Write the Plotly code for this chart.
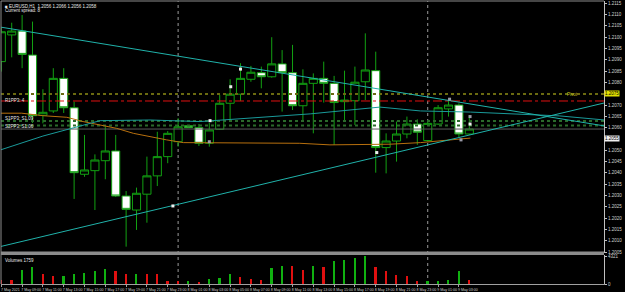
import plotly.graph_objects as go

# ---------------- data ----------------
bars = list(range(46))
open_ = [1.20892, 1.21010, 1.21027, 1.20921, 1.20655, 1.20674, 1.20818, 1.20688, 1.20394, 1.20410,
         1.20454, 1.20497, 1.20298, 1.20236, 1.20306, 1.20387, 1.20472, 1.20538, 1.20609, 1.20600,
         1.20531, 1.20593, 1.20708, 1.20748, 1.20814, 1.20843, 1.20825, 1.20882, 1.20843, 1.20697,
         1.20796, 1.20818, 1.20796, 1.20715, 1.20719, 1.20803, 1.20852, 1.20512, 1.20541, 1.20572,
         1.20616, 1.20543, 1.20616, 1.20683, 1.20700, 1.20572]
high = [1.21041, 1.21064, 1.21098, 1.21069, 1.20770, 1.20863, 1.20863, 1.20715, 1.20568, 1.20482,
        1.20604, 1.20568, 1.20320, 1.20335, 1.20472, 1.20582, 1.20585, 1.20642, 1.20612, 1.20616,
        1.20621, 1.20745, 1.20814, 1.20885, 1.20873, 1.20870, 1.21000, 1.20943, 1.20966, 1.20858,
        1.20840, 1.20892, 1.20829, 1.20852, 1.20870, 1.21017, 1.20936, 1.20575, 1.20627, 1.20649,
        1.20637, 1.20627, 1.20700, 1.20730, 1.20708, 1.20656]
low = [1.20848, 1.20911, 1.20863, 1.20621, 1.20619, 1.20665, 1.20665, 1.20285, 1.20383, 1.20236,
       1.20372, 1.20294, 1.20074, 1.20148, 1.20180, 1.20342, 1.20443, 1.20516, 1.20599, 1.20519,
       1.20516, 1.20590, 1.20631, 1.20718, 1.20803, 1.20774, 1.20821, 1.20671, 1.20678, 1.20627,
       1.20575, 1.20711, 1.20524, 1.20634, 1.20612, 1.20722, 1.20401, 1.20398, 1.20450, 1.20553,
       1.20524, 1.20538, 1.20612, 1.20649, 1.20558, 1.20568]
close = [1.21024, 1.21027, 1.20924, 1.20653, 1.20668, 1.20818, 1.20688, 1.20401, 1.20413, 1.20457,
         1.20497, 1.20298, 1.20239, 1.20310, 1.20387, 1.20472, 1.20575, 1.20604, 1.20600, 1.20531,
         1.20590, 1.20708, 1.20748, 1.20818, 1.20845, 1.20825, 1.20882, 1.20843, 1.20697, 1.20796,
         1.20818, 1.20796, 1.20711, 1.20722, 1.20801, 1.20855, 1.20512, 1.20541, 1.20572, 1.20616,
         1.20580, 1.20619, 1.20688, 1.20700, 1.20572, 1.20594]
volume = [600, 671, 2231, 2652, 1607, 1295, 1300, 1607, 1716, 2075,
          2340, 2070, 1607, 1620, 1600, 1560, 515, 421, 468, 312,
          827, 983, 1607, 1092, 780, 671, 2496, 2855, 2761, 2231,
          2855, 2652, 3541, 3791, 4056, 4321, 2652, 1981, 1357, 1295,
          421, 430, 515, 671, 1981, 671]
vol_up = [0, 0, 1, 1, 0, 0, 1, 1, 1, 1,
          1, 0, 0, 1, 0, 0, 0, 0, 1, 0,
          1, 1, 1, 0, 0, 0, 1, 1, 0, 0,
          1, 0, 1, 1, 1, 1, 0, 0, 0, 0,
          0, 1, 1, 1, 1, 0]

label_bars = list(range(0, 46, 2))
time_labels = ["7 May 2021", "7 May 09:00", "7 May 11:00", "7 May 13:00", "7 May 15:00",
               "7 May 17:00", "7 May 19:00", "7 May 21:00", "7 May 23:00", "8 May 01:00",
               "8 May 03:00", "8 May 05:00", "8 May 07:00", "8 May 09:00", "8 May 11:00",
               "8 May 13:00", "8 May 15:00", "8 May 17:00", "8 May 19:00", "8 May 21:00",
               "8 May 23:00", "9 May 01:00", "9 May 03:00"]
price_ticks = [1.2005, 1.2010, 1.2015, 1.2020, 1.2025, 1.2030, 1.2035, 1.2040, 1.2045, 1.2050,
               1.2060, 1.2065, 1.2070, 1.2080, 1.2085, 1.2090, 1.2095, 1.2100, 1.2105, 1.2110, 1.2115]
price_tick_labels = ["%.4f" % p for p in price_ticks]

separators = [17, 41]

tl1_x = [-0.125, 57.95]
tl1_y = [1.21045, 1.20608]
tl2_x = [-0.125, 57.95]
tl2_y = [1.20074, 1.20709]

ma_c_x = [-0.125, 4.0, 9.5, 14.3, 19.1, 24.9, 29.7, 36.4, 40.3, 45.1, 53.7, 58.0]
ma_c_y = [1.20501, 1.20563, 1.20631, 1.20634, 1.20627, 1.20646, 1.20661, 1.20691, 1.20674, 1.20669, 1.20652, 1.20634]

ma_o_x = [-0.125, 1.96, 4.0, 6.3, 7.86, 9.5, 11.1, 12.7, 14.3, 15.9, 17.5, 19.1, 28.7, 31.6, 37.4, 40.3, 42.2, 45.1]
ma_o_y = [1.20664, 1.20664, 1.20653, 1.20646, 1.20627, 1.20612, 1.20597, 1.20575, 1.20560, 1.20546,
          1.20534, 1.20534, 1.20531, 1.20524, 1.20527, 1.20534, 1.20541, 1.20554]

pivot_level = 1.20749
r_level = 1.20718
s_levels = [1.20630, 1.20610]
bid_level = 1.20594
marked_level = 1.2055

mk_x = [23.0, 22.06, 20.07, 20.0, 36.1, 16.5, 43.1, 44.2, 45.07, 45.07]
mk_y = [1.20859, 1.20781, 1.20631, 1.20538, 1.20490, 1.20254, 1.20726, 1.20546, 1.20649, 1.20616]
mk_white = [1, 1, 1, 0, 1, 1, 0, 0, 0, 1]

header_text = "EURUSD,H1  1.2056 1.2066 1.2056 1.2058"
spread_text = "Current spread: 8"
vol_text = "Volumes 1759"
vol_ticks = [0, 4321]

# ---------------- styles ----------------
GREEN = "#12a012"
XR = [-0.03, 57.95]
FULL = [-0.03, 57.95]
FONT = "Liberation Sans Narrow, Liberation Sans"

fig = go.Figure()

fig.add_trace(go.Candlestick(
    x=bars, open=open_, high=high, low=low, close=close,
    increasing=dict(line=dict(color=GREEN, width=1), fillcolor="black"),
    decreasing=dict(line=dict(color=GREEN, width=1), fillcolor="white"),
    whiskerwidth=0, showlegend=False, hoverinfo="skip", xaxis="x", yaxis="y"))

def hline(level, color, dash, width):
    fig.add_trace(go.Scatter(x=FULL, y=[level, level], mode="lines",
                             line=dict(color=color, dash=dash, width=width),
                             showlegend=False, hoverinfo="skip", xaxis="x", yaxis="y"))

hline(pivot_level, "#6a6a10", "dot", 2)
hline(r_level, "#e01010", "dashdot", 1)
for lv in s_levels:
    hline(lv, "#2a6a2a", "dot", 2)
hline(bid_level, "#5a5a5a", "solid", 1)

fig.add_trace(go.Scatter(x=ma_o_x, y=ma_o_y, mode="lines", line=dict(color="#b8700e", width=1),
                         showlegend=False, hoverinfo="skip", xaxis="x", yaxis="y"))
fig.add_trace(go.Scatter(x=ma_c_x, y=ma_c_y, mode="lines", line=dict(color="#1a9a9a", width=1),
                         showlegend=False, hoverinfo="skip", xaxis="x", yaxis="y"))
for tx, ty in [(tl1_x, tl1_y), (tl2_x, tl2_y)]:
    fig.add_trace(go.Scatter(x=tx, y=ty, mode="lines", line=dict(color="#20b2aa", width=1),
                             showlegend=False, hoverinfo="skip", xaxis="x", yaxis="y"))

fig.add_trace(go.Scatter(x=mk_x, y=mk_y, mode="markers",
                         marker=dict(symbol="square", size=3,
                                     color=["#f0f0f0" if w else "#9a9aa8" for w in mk_white]),
                         showlegend=False, hoverinfo="skip", xaxis="x", yaxis="y"))

fig.add_trace(go.Bar(x=bars, y=volume, width=0.16,
                     marker=dict(color=["#10b010" if u else "#e01010" for u in vol_up], line=dict(width=0)),
                     showlegend=False, hoverinfo="skip", xaxis="x2", yaxis="y2"))

H = 292
def py(p):  # pixel y -> paper
    return (284 - p) / 283.0

shapes = []
for s in separators:
    shapes.append(dict(type="line", xref="x", yref="paper", x0=s, x1=s, y0=0, y1=1,
                       line=dict(color="#9a9a9a", width=1, dash="dot"), layer="below"))
shapes.append(dict(type="rect", xref="paper", yref="paper", x0=0, x1=1, y0=py(255), y1=py(251.5),
                   fillcolor="#8c8c8c", line=dict(width=0), layer="above"))
shapes.append(dict(type="line", xref="paper", yref="paper", x0=0, x1=0, y0=0, y1=1,
                   line=dict(color="#8c8c8c", width=1)))
shapes.append(dict(type="line", xref="paper", yref="paper", x0=0, x1=1, y0=1, y1=1,
                   line=dict(color="#8c8c8c", width=1)))

def txt(t, x, y, xref, yref, color="#e8e8e8", xanchor="left", yanchor="middle", **kw):
    return dict(text=t, x=x, y=y, xref=xref, yref=yref, xanchor=xanchor, yanchor=yanchor,
                showarrow=False, font=dict(size=4.5, color=color, family=FONT), **kw)

ann = [
    txt("■ " + header_text, 0.004, py(1.5), "paper", "paper", yanchor="top"),
    txt(spread_text, 0.004, py(6), "paper", "paper", yanchor="top"),
    txt(vol_text, 0.004, py(255.5), "paper", "paper", yanchor="top"),
    txt("R1PP3: 4", 0.004, r_level, "paper", "y"),
    txt("S1PP3: S1.09", 0.004, s_levels[0] + 0.0001, "paper", "y"),
    txt("S2PP3: S1.06", 0.004, s_levels[1] - 0.00003, "paper", "y"),
    txt("Pivot", 54.9, pivot_level - 0.00004, "x", "y", color="#c8c820", xanchor="center"),
]
ann.append(dict(text="%.4f" % pivot_level, x=1.0, y=pivot_level, xref="paper", yref="y",
                xanchor="left", yanchor="middle", showarrow=False, bgcolor="#e0e000", borderpad=0,
                font=dict(size=4.5, color="black", family=FONT)))
ann.append(dict(text="%.4f" % marked_level, x=1.0, y=marked_level, xref="paper", yref="y",
                xanchor="left", yanchor="middle", showarrow=False, bgcolor="#f0f0f0", borderpad=0,
                font=dict(size=4.5, color="black", family=FONT)))

AX = dict(showgrid=False, zeroline=False, automargin=False)
fig.update_layout(
    width=625, height=H, margin=dict(l=1, r=21, t=1, b=8, autoexpand=False),
    paper_bgcolor="black", plot_bgcolor="black", showlegend=False,
    boxgap=0.22, boxgroupgap=0, bargap=0,
    xaxis=dict(domain=[0, 1], range=XR, anchor="y", showticklabels=False, ticks="",
               rangeslider=dict(visible=False), **AX),
    xaxis2=dict(domain=[0, 1], range=XR, anchor="y2", matches="x", tickmode="array",
                tickvals=label_bars, ticktext=time_labels, ticks="outside", ticklen=2,
                tickangle=0, tickcolor="#a0a0a0", ticklabelshift=9, ticklabelstandoff=0,
                tickfont=dict(size=3.6, color="#d0d0d0", family=FONT),
                showline=True, linecolor="#a0a0a0", linewidth=1, **AX),
    yaxis=dict(domain=[py(253), 1], range=[1.20046, 1.21160], side="right", anchor="x",
               tickmode="array", tickvals=price_ticks, ticktext=price_tick_labels,
               ticks="outside", ticklen=2, tickcolor="#c0c0c0",
               tickfont=dict(size=4.5, color="#d0d0d0", family=FONT),
               showline=True, linecolor="#c0c0c0", linewidth=1, **AX),
    yaxis2=dict(domain=[0, py(255)], range=[0, 4524], side="right", anchor="x2",
                tickmode="array", tickvals=vol_ticks, ticktext=[str(v) for v in vol_ticks],
                ticks="outside", ticklen=2, tickcolor="#c0c0c0",
                tickfont=dict(size=4.5, color="#d0d0d0", family=FONT),
                showline=True, linecolor="#c0c0c0", linewidth=1, **AX),
    shapes=shapes, annotations=ann,
)

fig.write_html("out.html")
